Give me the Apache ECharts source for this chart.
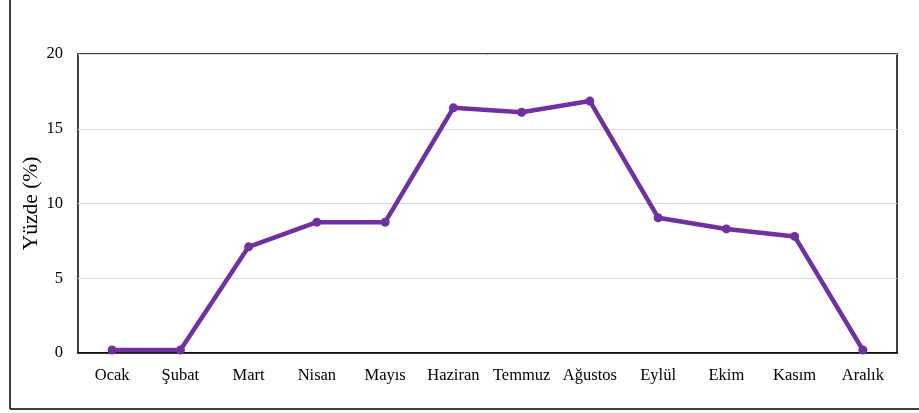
<!DOCTYPE html>
<html><head><meta charset="utf-8">
<script src="https://cdn.jsdelivr.net/npm/echarts@6/dist/echarts.min.js"></script>
<style>html,body{margin:0;padding:0;background:#fff}#c{width:919px;height:413px}</style>
</head><body><div id="c"></div>
<script>
const categories = ['Ocak','Şubat','Mart','Nisan','Mayıs','Haziran','Temmuz','Ağustos','Eylül','Ekim','Kasım','Aralık'];
const values = [0.2, 0.2, 7.1, 8.75, 8.75, 16.4, 16.1, 16.85, 9.05, 8.3, 7.8, 0.2];
const yTicks = [0, 5, 10, 15, 20];
const yTitle = 'Yüzde (%)';

const chart = echarts.init(document.getElementById('c'), null, {renderer: 'canvas'});
const font = '"Liberation Serif", "Times New Roman", serif';
chart.setOption({
  animation: false,
  backgroundColor: '#fff',
  grid: {left: 78, right: 22, top: 54, bottom: 60, show: true, borderColor: '#000', borderWidth: 1.5},
  xAxis: {
    type: 'category', data: categories, boundaryGap: true,
    axisLine: {show: true, lineStyle: {color: '#000', width: 1.5}},
    axisTick: {show: false},
    axisLabel: {color: '#000', fontFamily: font, fontSize: 16.5, margin: 14, interval: 0, hideOverlap: false}
  },
  yAxis: {
    type: 'value', min: yTicks[0], max: yTicks[yTicks.length-1], interval: 5,
    name: yTitle, nameLocation: 'middle', nameGap: 36, nameMoveOverlap: false,
    nameTextStyle: {color: '#000', fontFamily: font, fontSize: 21.5},
    axisLine: {show: false}, axisTick: {show: false},
    axisLabel: {color: '#000', fontFamily: font, fontSize: 16.5, margin: 15},
    splitLine: {lineStyle: {color: '#d9d9d9', width: 1}}
  },
  graphic: [
    {type: 'line', shape: {x1: 10, y1: 0, x2: 10, y2: 409}, style: {stroke: '#000', lineWidth: 1.5}},
    {type: 'line', shape: {x1: 10, y1: 409, x2: 919, y2: 409}, style: {stroke: '#000', lineWidth: 1.5}}
  ],
  series: [{
    type: 'line', data: values,
    symbol: 'circle', symbolSize: 9,
    lineStyle: {color: '#7030a0', width: 4.5},
    itemStyle: {color: '#7030a0'}
  }]
});
</script></body></html>
